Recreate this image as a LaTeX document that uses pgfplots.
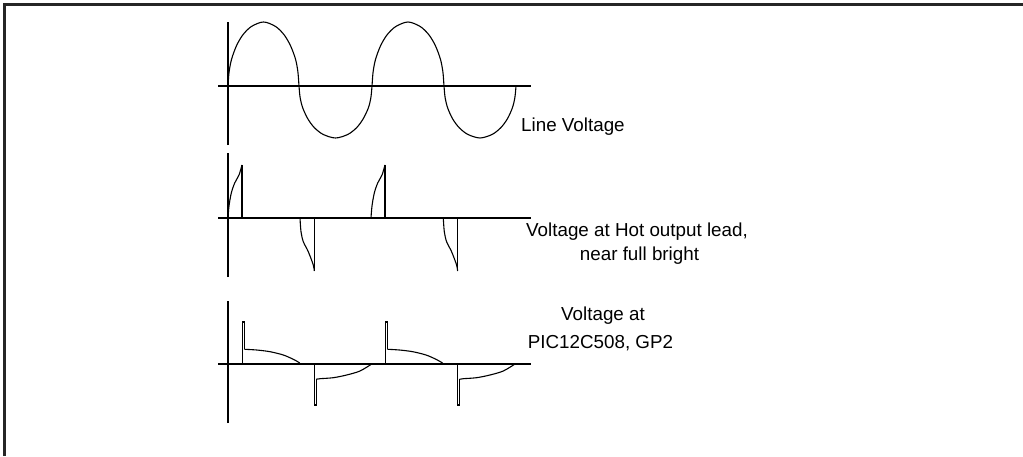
\documentclass[border=0pt]{standalone}
\usepackage{pgfplots}
\pgfplotsset{compat=1.18}
\usepackage{fontspec}
\setmainfont{Liberation Sans}
\pgfplotsset{wave/.style={
  axis lines=middle,
  axis line style={-, line width=1.2pt, black},
  every inner x axis line/.append style={-},
  every inner y axis line/.append style={-},
  xtick=\empty, ytick=\empty,
  x=1pt, y=1pt,
  xmin=-10, xmax=303,
  clip=false, anchor=south west}}
\begin{document}
\begin{tikzpicture}
\useasboundingbox (0,0) rectangle (1023pt,456pt);
\draw[line width=2.6pt, black!85] (4.2pt,0pt) -- (4.2pt,451.7pt) -- (1023pt,451.7pt);
% Plot 1: line voltage
\begin{axis}[wave, at={(218pt,311pt)}, ymin=-59, ymax=64]
\addplot[black, line width=1.1pt, smooth] coordinates {
(0,0) (1.1,14.1) (3.6,26.9) (8.5,40.3) (14.9,51.2) (23.4,59.5) (35.5,64) (47.6,59.5) (56.1,51.2) (62.5,40.3) (67.5,26.9) (69.9,14.1) (71,0)
(72.1,-11.4) (74.7,-21.8) (79.8,-32.8) (86.3,-41.6) (95.1,-48.4) (107.5,-52) (119.9,-48.4) (128.7,-41.6) (135.2,-32.8) (140.4,-21.8) (142.9,-11.4) (144,0)
(145.1,14.1) (147.6,26.9) (152.6,40.3) (159.1,51.2) (167.8,59.5) (180,64) (192.2,59.5) (200.9,51.2) (207.4,40.3) (212.4,26.9) (214.9,14.1) (216,0)
(217.1,-11.4) (219.6,-21.8) (224.6,-32.8) (231.1,-41.6) (239.8,-48.4) (252,-52) (264.2,-48.4) (272.9,-41.6) (279.4,-32.8) (284.4,-21.8) (286.9,-11.4) (288,0)
};
\end{axis}
% Plot 2: hot output lead
\begin{axis}[wave, at={(218pt,179pt)}, ymin=-59, ymax=65]
\addplot[black, line width=1.1pt, smooth] coordinates {(0,0) (1,12) (3.3,25) (6.7,35) (11,43) (14,53)};
\addplot[black, line width=1.1pt, sharp plot] coordinates {(14,53) (14,0) (72,0)};
\addplot[black, line width=1.1pt, smooth] coordinates {(72,0) (73,-13.7) (75.3,-23.7) (80.3,-33.7) (85.3,-47) (86.3,-53)};
\addplot[black, line width=1.1pt, sharp plot] coordinates {(86.3,-53) (86.3,0) (143,0)};
\addplot[black, line width=1.1pt, smooth] coordinates {(143,0) (144,12) (146.3,25) (149.7,35) (154,43) (157,53)};
\addplot[black, line width=1.1pt, sharp plot] coordinates {(157,53) (157,0) (215.3,0)};
\addplot[black, line width=1.1pt, smooth] coordinates {(215.3,0) (216.3,-13.7) (218.6,-23.7) (223.6,-33.7) (228.6,-47) (229.6,-53)};
\addplot[black, line width=1.1pt, sharp plot] coordinates {(229.6,-53) (229.6,0) (285.3,0)};
\end{axis}
% Plot 3: PIC GP2
\begin{axis}[wave, at={(218pt,33pt)}, ymin=-59, ymax=63]
\addplot[black, line width=1.1pt, sharp plot] coordinates {(0,0) (14.3,0) (14.3,42) (16.3,42) (16.3,14.7)};
\addplot[black, line width=1.1pt, smooth] coordinates {(16.3,14.7) (28.7,14) (42,12.3) (55.3,9) (65.3,4.7) (71.3,1.3) (72,0)};
\addplot[black, line width=1.1pt, sharp plot] coordinates {(72,0) (86.3,0) (86.3,-41) (88.3,-41) (88.3,-15.3)};
\addplot[black, line width=1.1pt, smooth] coordinates {(88.3,-15.3) (92,-14.7) (105.3,-13.7) (118.7,-11) (132,-7) (143.7,0)};
\addplot[black, line width=1.1pt, sharp plot] coordinates {(143.7,0) (157.3,0) (157.3,42) (159.3,42) (159.3,14.7)};
\addplot[black, line width=1.1pt, smooth] coordinates {(159.3,14.7) (171.4,14) (184.7,12.3) (198,9) (208,4.7) (214,1.3) (215.3,0)};
\addplot[black, line width=1.1pt, sharp plot] coordinates {(215.3,0) (229.6,0) (229.6,-41) (231.6,-41) (231.6,-15.3)};
\addplot[black, line width=1.1pt, smooth] coordinates {(231.6,-15.3) (235.3,-14.7) (248.6,-13.7) (262,-11) (275.3,-7) (287,0)};
\end{axis}
\begin{scope}[every node/.style={inner sep=0pt, font=\fontsize{18.8}{22}\selectfont}]
\node[anchor=base west] at (521pt,324.3pt) {Line Voltage};
\node[anchor=base] at (637pt,219.3pt) {Voltage at Hot output lead,};
\node[anchor=base] at (639.5pt,196pt) {near full bright};
\node[anchor=base] at (603pt,136pt) {Voltage at};
\node[anchor=base] at (600.5pt,108pt) {PIC12C508, GP2};
\end{scope}
\end{tikzpicture}
\end{document}
